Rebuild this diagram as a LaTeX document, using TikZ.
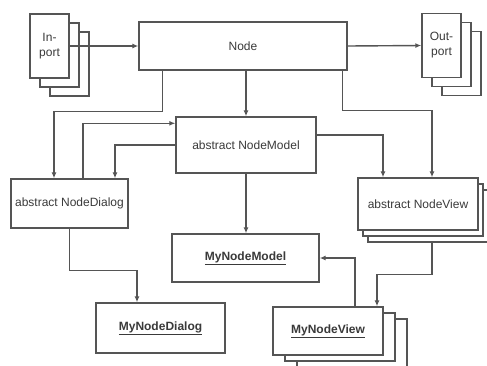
\documentclass[tikz,border=0pt]{standalone}
\usepackage{fontspec}
\setmainfont{Liberation Sans}
\usetikzlibrary{arrows.meta,shadows}
\definecolor{linegray}{HTML}{555555}
\definecolor{textgray}{HTML}{3A3A3A}

\begin{document}
\begin{tikzpicture}[x=1pt,y=-1pt,
  box/.style={draw=linegray,line width=1.4pt,fill=white,text=textgray,
    font=\fontsize{12}{15}\selectfont,align=center,inner sep=0pt},
  sheets/.style 2 args={
    copy shadow={shadow xshift=2*#1,shadow yshift=2*#2,draw=linegray,fill=white,line width=1.4pt},
    copy shadow={shadow xshift=#1,shadow yshift=#2,draw=linegray,fill=white,line width=1.4pt}},
  portbox/.style={box,minimum width=39pt,minimum height=64pt,sheets={10pt}{-9pt}},
  conn/.style={draw=linegray,line width=1.4pt,-{Latex[length=6pt,width=5pt]}}]
\useasboundingbox (0,0) rectangle (487,365);
\node[portbox] (inport) at (49.5,46) {In-\\port};
\node[portbox] (outport) at (441.5,45.5) {Out-\\port};
\node[box,minimum width=208pt,minimum height=48pt] (node) at (243,46) {Node};
\node[box,minimum width=140pt,minimum height=56pt] (model) at (246,145) {abstract NodeModel};
\node[box,minimum width=117pt,minimum height=49pt] (dialog) at (69.5,203.5) {abstract NodeDialog};
\node[box,minimum width=120pt,minimum height=52pt,sheets={5pt}{-6pt}] (view) at (418,204) {abstract NodeView};
\node[box,minimum width=147pt,minimum height=48pt] (mymodel) at (245.5,258) {\textbf{\underline{MyNodeModel}}};
\node[box,minimum width=129pt,minimum height=50pt] (mydialog) at (160.5,328) {\textbf{\underline{MyNodeDialog}}};
\node[box,minimum width=110pt,minimum height=48pt,sheets={12pt}{-6pt}] (myview) at (328,331) {\textbf{\underline{MyNodeView}}};

\draw[conn] (inport.east) -- (node.west);
\draw[conn] (node.east) -- (outport.west);
\draw[conn] ([xshift=24pt]node.south west) -- ++(0,41) -| ([xshift=-15.5pt]dialog.north);
\draw[conn] (node.south -| model.north) -- (model.north);
\draw[conn] ([xshift=-5pt]node.south east) -- ++(0,40) -| ([xshift=14pt]view.north);
\draw[conn] (model.west) -| ([xshift=45.5pt]dialog.north);
\draw[conn] ([xshift=13.5pt]dialog.north) |- ([yshift=-7pt]model.north west);
\draw[conn] ([yshift=10pt]model.east) -| ([xshift=-35pt]view.north);
\draw[conn] (model.south) -- (model.south |- mymodel.north);
\draw[conn] (dialog.south) -- ++(0,42) -| ([xshift=-23.5pt]mydialog.north);
\draw[conn] ([xshift=14pt,yshift=-12pt]view.south) -- ++(0,32) -| ([xshift=49pt]myview.north);
\draw[conn] ([xshift=27pt]myview.north) |- (mymodel.east);
\end{tikzpicture}
\end{document}
